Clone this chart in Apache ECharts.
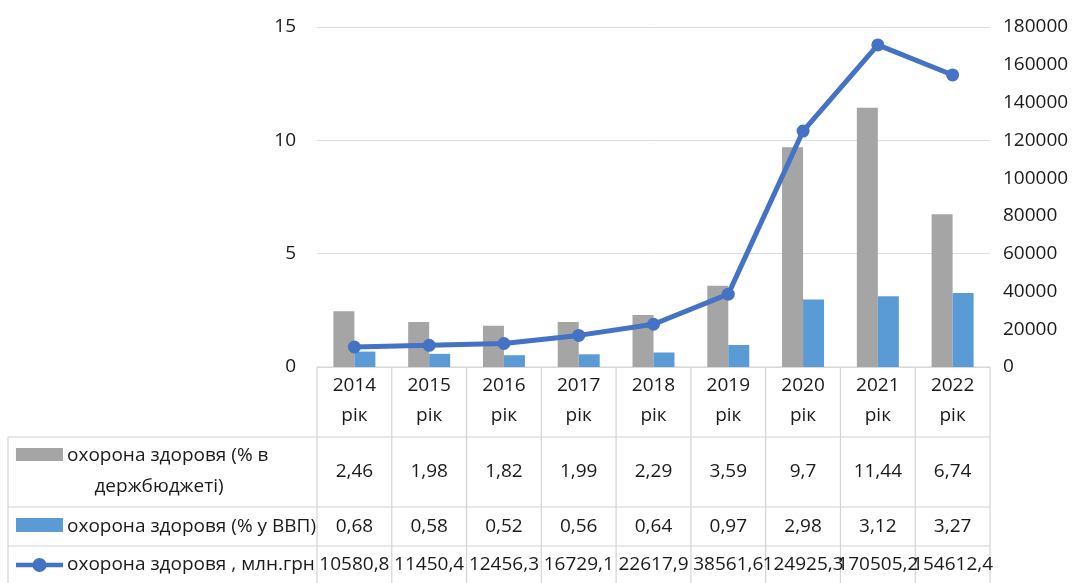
<!DOCTYPE html>
<html>
<head>
<meta charset="utf-8">
<script src="https://cdn.jsdelivr.net/npm/echarts@6/dist/echarts.min.js"></script>
<style>
  html, body { margin: 0; padding: 0; background: #fff; }
  #chart { width: 1078px; height: 583px; }
</style>
</head>
<body>
<div id="chart"></div>
<script>
// data
const years = ["2014", "2015", "2016", "2017", "2018", "2019", "2020", "2021", "2022"];
const budgetShare = [2.46, 1.98, 1.82, 1.99, 2.29, 3.59, 9.7, 11.44, 6.74];
const gdpShare = [0.68, 0.58, 0.52, 0.56, 0.64, 0.97, 2.98, 3.12, 3.27];
const spendingMln = [10580.8, 11450.4, 12456.3, 16729.1, 22617.9, 38561.6, 124925.3, 170505.2, 154612.4];

const seriesNames = [
  "охорона здоровя (% в держбюджеті)",
  "охорона здоровя (% у ВВП)",
  "охорона здоровя , млн.грн",
];

const GRAY = "#a5a5a5";
const BLUE = "#5b9bd5";
const LINE = "#4472c4";
const BORDER = "#d4d4d4";
const TEXT = "#1a1a1a";
const FONT = "Open Sans";
const FS = 19;

const gridLeft = 317, gridRight = 88, gridTop = 27, gridBottom = 216;
const W = 1078, H = 583;

const fmt = (v) => String(v).replace(".", ",");

let myChart = echarts.init(document.getElementById("chart"), null, { renderer: "canvas" });

let option = {
  animation: false,
  textStyle: { fontFamily: FONT },
  grid: { left: gridLeft, right: gridRight, top: gridTop, bottom: gridBottom },
  xAxis: {
    type: "category",
    data: years,
    axisLine: { show: false },
    axisTick: { show: false },
    axisLabel: {
      margin: 4,
      fontSize: FS,
      lineHeight: 30,
      color: TEXT,
      fontFamily: FONT,
      formatter: (v) => v + "\nрік",
    },
  },
  yAxis: [
    {
      type: "value",
      min: 0,
      max: 15,
      interval: 5,
      axisLine: { show: false },
      axisTick: { show: false },
      axisLabel: { margin: 21, fontSize: FS, color: TEXT, fontFamily: FONT },
      splitLine: { lineStyle: { color: "#dcdcdc", width: 1 } },
    },
    {
      type: "value",
      min: 0,
      max: 180000,
      interval: 20000,
      axisLine: { show: false },
      axisTick: { show: false },
      axisLabel: { margin: 13, fontSize: FS, color: TEXT, fontFamily: FONT, formatter: (v) => String(v) },
      splitLine: { show: false },
    },
  ],
  series: [
    {
      name: seriesNames[0],
      type: "bar",
      data: budgetShare,
      barWidth: 21,
      barGap: "0%",
      itemStyle: { color: GRAY },
      z: 2,
    },
    {
      name: seriesNames[1],
      type: "bar",
      data: gdpShare,
      barWidth: 21,
      barGap: "0%",
      itemStyle: { color: BLUE },
      z: 2,
    },
    {
      name: seriesNames[2],
      type: "line",
      yAxisIndex: 1,
      data: spendingMln,
      symbol: "circle",
      symbolSize: 13,
      lineStyle: { color: LINE, width: 5 },
      itemStyle: { color: LINE },
      z: 5,
    },
  ],
};
myChart.setOption(option);

// data table under the plot
const x0 = gridLeft, x1 = W - gridRight;
const yAxisLine = H - gridBottom;
const rowLines = [437, 507, 546];
const tableLeft = 8;
const colW = (x1 - x0) / years.length;

const g = [];
const hline = (xa, xb, y) => g.push({ type: "line", shape: { x1: xa, y1: y, x2: xb, y2: y }, style: { stroke: BORDER, lineWidth: 1.2 }, silent: true });
const vline = (x, ya, yb) => g.push({ type: "line", shape: { x1: x, y1: ya, x2: x, y2: yb }, style: { stroke: BORDER, lineWidth: 1.2 }, silent: true });

hline(x0, x1, yAxisLine);
rowLines.forEach((y) => hline(tableLeft, x1, y));
for (let k = 0; k <= years.length; k++) vline(x0 + k * colW, yAxisLine, H);
vline(tableLeft, rowLines[0], H);

const txt = (text, x, y, align) => g.push({
  type: "text",
  x: x, y: y,
  style: { text: text, fill: TEXT, font: FS + "px '" + FONT + "'", align: align || "center", verticalAlign: "middle" },
  silent: true,
});

const rowCenters = [472, 526.5, 565];
const rows = [budgetShare, gdpShare, spendingMln];
rows.forEach((vals, r) => {
  vals.forEach((v, i) => {
    const cx = myChart.convertToPixel({ xAxisIndex: 0 }, i);
    txt(fmt(v), cx, rowCenters[r]);
  });
});

// legend keys in the first column
g.push({ type: "rect", shape: { x: 16, y: 448, width: 47, height: 13 }, style: { fill: GRAY }, silent: true });
txt("охорона здоровя (% в", 67, 456, "left");
txt("держбюджеті)", 159, 487);

g.push({ type: "rect", shape: { x: 16, y: 518, width: 47, height: 14 }, style: { fill: BLUE }, silent: true });
txt(seriesNames[1], 67, 526.5, "left");

g.push({ type: "line", shape: { x1: 16, y1: 565, x2: 63, y2: 565 }, style: { stroke: LINE, lineWidth: 4.5 }, silent: true });
g.push({ type: "circle", shape: { cx: 39.5, cy: 565, r: 7 }, style: { fill: LINE }, silent: true });
txt(seriesNames[2], 67, 565, "left");

myChart.setOption({ graphic: g });
</script>
</body>
</html>
